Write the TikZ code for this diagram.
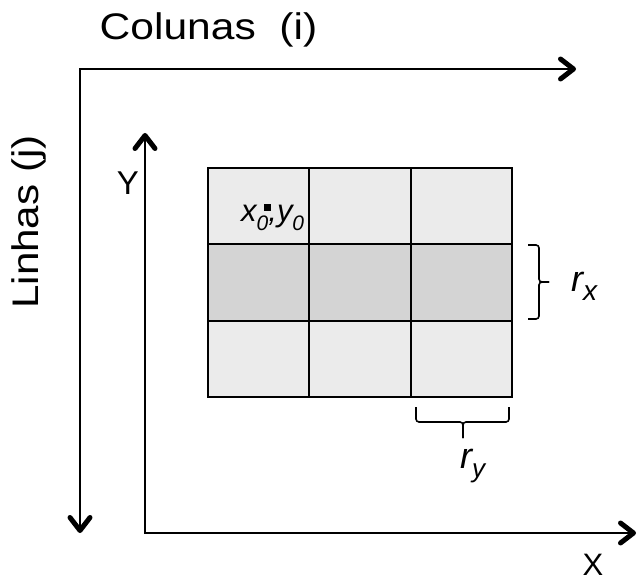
\documentclass[tikz,border=0pt]{standalone}
\usepackage{fontspec}
\setmainfont{Liberation Sans}
\usetikzlibrary{arrows.meta}
\definecolor{cellL}{HTML}{EBEBEB}
\definecolor{cellD}{HTML}{D4D4D4}
\newcommand{\sbs}[2]{{\fontsize{#1}{#1}\selectfont\raisebox{-9pt}{#2}}}
\begin{document}
\begin{tikzpicture}[x=1pt,y=-1pt,
  chev/.style={line width=2pt,{Straight Barb[length=13pt,width=20pt,line width=5pt,round]}-{Straight Barb[length=13pt,width=20pt,line width=5pt,round]}},
  gridln/.style={line width=2.6pt},
  brc/.style={line width=1.6pt,rounded corners=3pt},
  lbl/.style={inner sep=0pt,anchor=base},
  itl/.style={inner sep=0pt,anchor=base west,font=\itshape\fontsize{36}{36}\selectfont}
]
\useasboundingbox (0,0) rectangle (637,585);

% outer frame axes (Colunas / Linhas)
\coordinate (tr) at (576,69);
\coordinate (tl) at (80,69);
\coordinate (bl) at (80,533);
\draw[chev] (tr) -- (tl) -- (bl);

% X / Y axes
\coordinate (yt) at (145,133);
\coordinate (o) at (145,533);
\coordinate (xt) at (636,533);
\draw[chev] (yt) -- (o) -- (xt);

% grid cells
\fill[cellL] (208,168) rectangle (512,244);
\fill[cellD] (208,244) rectangle (512,321);
\fill[cellL] (208,321) rectangle (512,397);
\draw[gridln] (309,168) -- (309,397);
\draw[gridln] (411,168) -- (411,397);
\draw[gridln] (208,244) -- (512,244);
\draw[gridln] (208,321) -- (512,321);
\draw[gridln] (208,168) rectangle (512,397);

% point x0,y0
\node[fill=black,minimum size=7pt,inner sep=0pt] (pt) at (267,208) {};
\node[inner sep=0pt,anchor=base west,font=\itshape\fontsize{31}{31}\selectfont] (xy) at (241,222) {x\sbs{21}{0},y\sbs{21}{0}};

% brace r_x
\coordinate (rxa) at (528,245);
\coordinate (rxb) at (528,319);
\coordinate (rxm) at (539,282);
\coordinate (rxt) at (549,282);
\draw[brc] (rxa) -| (rxm) -- (rxt);
\draw[brc] (rxb) -| (rxm) -- (rxt);
\node[itl] (rx) at (571,292) {r\sbs{28}{x}};

% brace r_y
\coordinate (rya) at (416,407);
\coordinate (ryb) at (509,407);
\coordinate (rym) at (463,422);
\coordinate (ryt) at (463,438);
\draw[brc] (rya) |- (rym) -- (ryt);
\draw[brc] (ryb) |- (rym) -- (ryt);
\node[itl] (ry) at (460,468) {r\sbs{26}{y}};

% labels
\node[lbl,xscale=1.15,font=\fontsize{37}{37}\selectfont] (col) at (208.5,40) {Colunas~~(i)};
\node[lbl,rotate=90,xscale=1.14,font=\fontsize{37}{37}\selectfont] (lin) at (38,222) {Linhas (j)};
\node[lbl,font=\fontsize{33}{33}\selectfont] (ylab) at (128,195) {Y};
\node[lbl,font=\fontsize{31}{31}\selectfont] (xlab) at (593,575) {X};
\end{tikzpicture}
\end{document}
